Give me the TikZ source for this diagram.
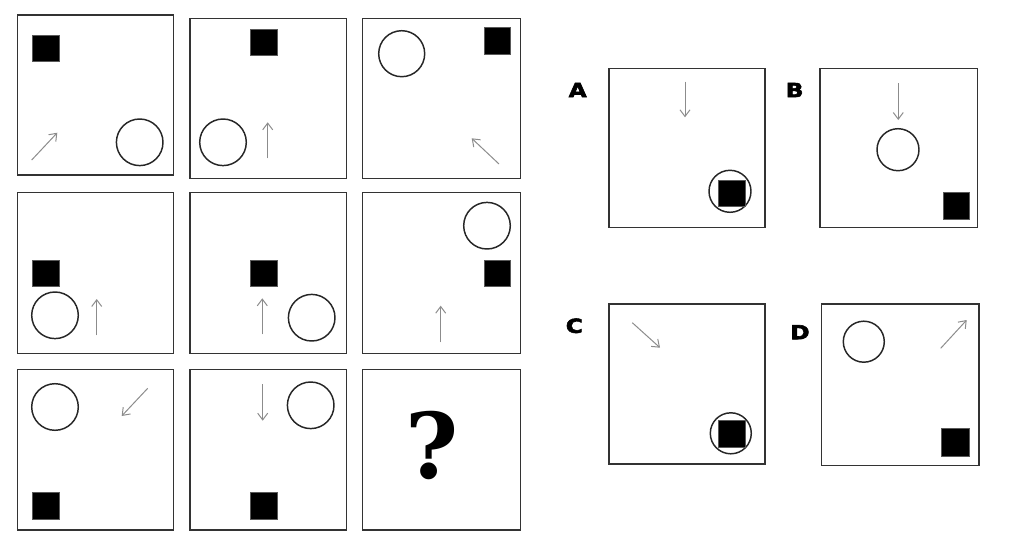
\documentclass[tikz,border=0pt]{standalone}
\usepackage{fontspec}
\newfontfamily\labelfont{DejaVu Sans}[FakeStretch=1.2, BoldFeatures={FakeBold=3}]
\newfontfamily\qfont{DejaVu Serif}
\usetikzlibrary{arrows.meta}
\begin{document}
\begin{tikzpicture}[x=0.75pt,y=-0.75pt,
  panel/.style={draw=black!80, line width=0.9pt},
  ring/.style={draw=black!85, line width=1.1pt},
  blk/.style={fill=black, draw=black!65, line width=0.7pt},
  arr/.style={draw=black!45, line width=0.75pt, -{Straight Barb[length=5pt,width=7.5pt]}},
  opt/.style={font=\labelfont\bfseries\fontsize{14.5}{15}\selectfont, inner sep=0pt, text=black}]
\useasboundingbox (0,0) rectangle (1011,554);
% ---------- row 1 ----------
\draw[panel] (17.3,15) rectangle (173.3,175);
\draw[blk] (32.3,35) rectangle (59,61.7);
\draw[ring] (139.7,142.3) circle[radius=23.3];
\draw[arr] (31.7,160) -- (57.3,132.7);

\draw[panel] (190,18.3) rectangle (346.7,178.3);
\draw[blk] (250,29) rectangle (277.3,55);
\draw[ring] (223,142.3) circle[radius=23.3];
\draw[arr] (267.7,158.3) -- (267.7,122.3);

\draw[panel] (362.7,18.3) rectangle (520.7,178.3);
\draw[ring] (401.7,53.7) circle[radius=23];
\draw[blk] (484.3,27.7) rectangle (510.7,54);
\draw[arr] (499,164) -- (471.7,138.3);
% ---------- row 2 ----------
\draw[panel] (17.3,192.3) rectangle (173.3,353.3);
\draw[blk] (32.3,260) rectangle (59,286);
\draw[ring] (55,315.3) circle[radius=23.3];
\draw[arr] (96.7,335.3) -- (96.7,299);

\draw[panel] (190,192.3) rectangle (346.7,353.3);
\draw[blk] (250,260) rectangle (277.3,286);
\draw[ring] (311.7,317.7) circle[radius=23.3];
\draw[arr] (262.3,334.3) -- (262.3,298.3);

\draw[panel] (362.7,192.3) rectangle (520.7,353.3);
\draw[ring] (487,225.7) circle[radius=23.3];
\draw[blk] (484.3,260) rectangle (510.7,286);
\draw[arr] (440.7,342.3) -- (440.7,305.7);
% ---------- row 3 ----------
\draw[panel] (17.3,369.3) rectangle (173.3,530);
\draw[ring] (55,407) circle[radius=23.3];
\draw[blk] (32.3,492.7) rectangle (59,519.3);
\draw[arr] (147.7,388.3) -- (121.7,416);

\draw[panel] (190,369.3) rectangle (346.7,530);
\draw[ring] (310.7,405.3) circle[radius=23.3];
\draw[blk] (250,492.7) rectangle (277.3,519.3);
\draw[arr] (262.7,384) -- (262.7,420.7);

\draw[panel] (362.7,369.3) rectangle (520.7,530);
\node[anchor=base, inner sep=0pt, font=\qfont\bfseries\fontsize{68}{70}\selectfont] (q) at (432.5,478.3) {?};
% ---------- option A ----------
\node[opt] (la) at (577.7,90) {A};
\draw[panel] (609,68.3) rectangle (765,227.3);
\draw[arr] (685,81.7) -- (685,117.3);
\draw[ring] (730,191.3) circle[radius=21];
\draw[blk] (718.3,180.7) rectangle (745,206.7);
% ---------- option B ----------
\node[opt] (lb) at (794.7,90) {B};
\draw[panel] (820,68.3) rectangle (977.7,227.3);
\draw[arr] (898.3,83.3) -- (898.3,120);
\draw[ring] (898,149.7) circle[radius=21];
\draw[blk] (943.3,192.3) rectangle (969.3,219.3);
% ---------- option C ----------
\node[opt] (lc) at (574.3,325.8) {C};
\draw[panel] (609,304) rectangle (765,464);
\draw[arr] (632.3,322.7) -- (660,347.7);
\draw[ring] (730.8,433.3) circle[radius=20.5];
\draw[blk] (718.3,420.7) rectangle (745,447.3);
% ---------- option D ----------
\node[opt] (ld) at (800,332.2) {D};
\draw[panel] (821.7,304) rectangle (979,465.7);
\draw[ring] (863.8,341.7) circle[radius=20.5];
\draw[arr] (940.7,348.3) -- (966.7,320);
\draw[blk] (941.7,428.3) rectangle (969,456);
\end{tikzpicture}
\end{document}
